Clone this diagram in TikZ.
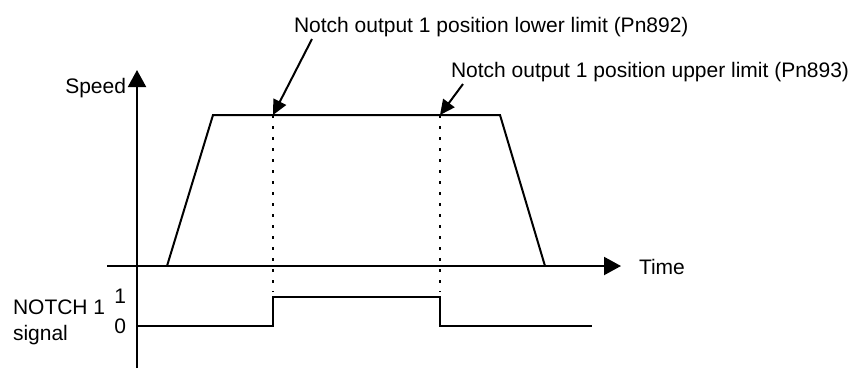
\documentclass[tikz,border=0pt]{standalone}
\usepackage{fontspec}
\setmainfont{Liberation Sans}
\usetikzlibrary{arrows.meta}

\begin{document}
\begin{tikzpicture}[x=1pt, y=-1pt, line width=2pt,
  font=\fontsize{21}{25}\selectfont,
  lbl/.style={inner sep=0pt},
  axis/.style={-{Triangle[length=17pt,width=18pt]}},
  pointer/.style={-{Triangle[length=15pt,width=14pt]}},
  guide/.style={dash pattern=on 2.5pt off 8.5pt}]
  \useasboundingbox (0,0) rectangle (856,368);
  % axes
  \coordinate (vbot) at (137,368); \coordinate (vtop) at (137,70);
  \coordinate (hleft) at (107,266); \coordinate (hright) at (621,266);
  \draw[axis] (vbot) -- (vtop);
  \draw[axis] (hleft) -- (hright);
  \node[lbl, anchor=base east] (speed) at (127,93) {Speed};
  \node[lbl, anchor=base west] (time) at (638,274) {Time};
  % speed profile
  \coordinate (s0) at (167,266); \coordinate (s1) at (213,115);
  \coordinate (lo) at (273,115); \coordinate (up) at (440,115);
  \coordinate (s2) at (500,115); \coordinate (s3) at (545,266);
  \draw (s0) -- (s1) -- (lo) -- (up) -- (s2) -- (s3);
  \coordinate (lobot) at (273,292); \coordinate (upbot) at (440,292);
  \draw[guide] (lo) -- (lobot);
  \draw[guide] (up) -- (upbot);
  % limits
  \node[lbl, anchor=base west] (lower) at (293,32) {Notch output 1 position lower limit (Pn892)};
  \node[lbl, anchor=base west] (upper) at (450,77) {Notch output 1 position upper limit (Pn893)};
  \coordinate (lotail) at (312,39); \coordinate (uptail) at (463,84);
  \draw[pointer] (lotail) -- (lo);
  \draw[pointer] (uptail) -- (up);
  % NOTCH 1 signal
  \coordinate (n0) at (137,326); \coordinate (n1) at (273,326);
  \coordinate (n2) at (273,297); \coordinate (n3) at (440,297);
  \coordinate (n4) at (440,326); \coordinate (n5) at (592,326);
  \draw (n0) -- (n1) -- (n2) -- (n3) -- (n4) -- (n5);
  \node[lbl, anchor=base east] (high) at (127,303) {1};
  \node[lbl, anchor=base east] (low) at (127,333) {0};
  \node[lbl, anchor=base west] (notch) at (12,314) {NOTCH 1};
  \node[lbl, anchor=base west] (sig) at (12,340) {signal};
\end{tikzpicture}
\end{document}
